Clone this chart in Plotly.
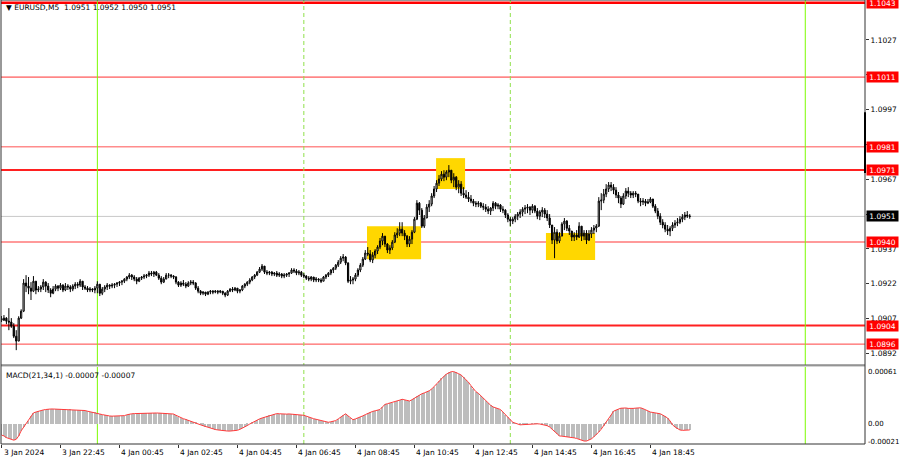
import plotly.graph_objects as go

# ---------------- data (EURUSD M5) ----------------
first_open = 1.09070

close = [
    1.09063, 1.09072, 1.09059, 1.09055, 1.09037, 1.08994, 1.08973, 1.09072, 1.09102, 1.09223,
    1.09210, 1.09201, 1.09188, 1.09231, 1.09193, 1.09197, 1.09206, 1.09227, 1.09210, 1.09193, 1.09179,
    1.09197, 1.09210, 1.09201, 1.09214, 1.09193, 1.09210, 1.09206, 1.09197, 1.09210, 1.09218,
    1.09214, 1.09231, 1.09206, 1.09201, 1.09193, 1.09197, 1.09193, 1.09201, 1.09218, 1.09179,
    1.09197, 1.09206, 1.09214, 1.09210, 1.09214, 1.09218, 1.09223, 1.09227,
    1.09231, 1.09240, 1.09249, 1.09257, 1.09249, 1.09240, 1.09231, 1.09244, 1.09249, 1.09253,
    1.09257, 1.09266, 1.09262, 1.09270, 1.09257, 1.09244, 1.09227, 1.09240, 1.09257, 1.09257,
    1.09253, 1.09249, 1.09227, 1.09214, 1.09223, 1.09218, 1.09210, 1.09223, 1.09227, 1.09223,
    1.09201, 1.09188, 1.09179, 1.09184, 1.09175, 1.09184, 1.09188, 1.09184, 1.09188, 1.09184,
    1.09188, 1.09179, 1.09171, 1.09188, 1.09197, 1.09193, 1.09201, 1.09188, 1.09193, 1.09210,
    1.09218, 1.09227,
    1.09236, 1.09249, 1.09257, 1.09270, 1.09283, 1.09296, 1.09270, 1.09266, 1.09270, 1.09262,
    1.09266, 1.09257, 1.09262, 1.09253, 1.09257, 1.09262, 1.09266, 1.09279, 1.09275, 1.09266,
    1.09270, 1.09257, 1.09253, 1.09244, 1.09240, 1.09249, 1.09236, 1.09240, 1.09236, 1.09231,
    1.09249, 1.09257, 1.09266, 1.09279, 1.09287, 1.09300, 1.09313, 1.09330, 1.09335, 1.09309,
    1.09231, 1.09236,
    1.09240, 1.09257, 1.09279, 1.09300, 1.09326, 1.09352, 1.09348, 1.09322, 1.09343, 1.09361,
    1.09378, 1.09404, 1.09425, 1.09391, 1.09365, 1.09374, 1.09399, 1.09430, 1.09438, 1.09455,
    1.09438, 1.09425, 1.09391, 1.09412, 1.09442, 1.09498, 1.09567, 1.09537, 1.09468, 1.09503,
    1.09550, 1.09563, 1.09598, 1.09628, 1.09653, 1.09671, 1.09692, 1.09679, 1.09701, 1.09709,
    1.09666, 1.09679, 1.09636, 1.09649, 1.09610, 1.09602, 1.09593, 1.09585,
    1.09576, 1.09567, 1.09563, 1.09567, 1.09554, 1.09550, 1.09541, 1.09533, 1.09546, 1.09567,
    1.09554, 1.09559, 1.09541, 1.09537, 1.09516, 1.09498, 1.09490, 1.09498, 1.09511, 1.09520,
    1.09529, 1.09541, 1.09546, 1.09550, 1.09537, 1.09554, 1.09533, 1.09511, 1.09529, 1.09537,
    1.09520, 1.09503, 1.09473, 1.09408, 1.09442, 1.09404, 1.09425, 1.09477, 1.09490, 1.09459,
    1.09447, 1.09421, 1.09430, 1.09421, 1.09468, 1.09425, 1.09438, 1.09408, 1.09434, 1.09451,
    1.09460, 1.09468, 1.09576, 1.09580,
    1.09606, 1.09628, 1.09645, 1.09636, 1.09623, 1.09602, 1.09589, 1.09563, 1.09598, 1.09619,
    1.09610, 1.09602, 1.09610, 1.09606, 1.09576, 1.09572, 1.09576, 1.09567, 1.09572, 1.09585,
    1.09554, 1.09533, 1.09511, 1.09485, 1.09473, 1.09455, 1.09447, 1.09459, 1.09473, 1.09481,
    1.09485, 1.09498, 1.09507, 1.09516, 1.09512, 1.09510,
]

high = [
    1.09081, 1.09085, 1.09076, 1.09115, 1.09072, 1.09050, 1.09020, 1.09080, 1.09110, 1.09240,
    1.09257, 1.09249, 1.09227, 1.09253, 1.09231, 1.09210, 1.09214, 1.09240, 1.09231, 1.09223, 1.09201,
    1.09210, 1.09218, 1.09214, 1.09223, 1.09218, 1.09223, 1.09218, 1.09214, 1.09218, 1.09227,
    1.09227, 1.09240, 1.09231, 1.09214, 1.09210, 1.09206, 1.09201, 1.09210, 1.09231, 1.09218,
    1.09206, 1.09214, 1.09223, 1.09218, 1.09223, 1.09223, 1.09227, 1.09231,
    1.09236, 1.09244, 1.09253, 1.09266, 1.09262, 1.09257, 1.09249, 1.09249, 1.09253, 1.09262,
    1.09262, 1.09275, 1.09275, 1.09275, 1.09275, 1.09266, 1.09253, 1.09249, 1.09266, 1.09266,
    1.09262, 1.09257, 1.09253, 1.09231, 1.09231, 1.09236, 1.09227, 1.09231, 1.09236, 1.09236,
    1.09227, 1.09210, 1.09193, 1.09188, 1.09184, 1.09188, 1.09193, 1.09193, 1.09193, 1.09193,
    1.09193, 1.09188, 1.09184, 1.09193, 1.09201, 1.09206, 1.09206, 1.09201, 1.09197, 1.09214,
    1.09223, 1.09231,
    1.09244, 1.09253, 1.09262, 1.09275, 1.09292, 1.09305, 1.09296, 1.09279, 1.09275, 1.09275,
    1.09270, 1.09275, 1.09270, 1.09266, 1.09266, 1.09266, 1.09270, 1.09287, 1.09287, 1.09283,
    1.09279, 1.09275, 1.09266, 1.09257, 1.09253, 1.09253, 1.09249, 1.09249, 1.09244, 1.09244,
    1.09253, 1.09262, 1.09270, 1.09283, 1.09292, 1.09305, 1.09322, 1.09339, 1.09348, 1.09339,
    1.09313, 1.09253,
    1.09249, 1.09266, 1.09287, 1.09309, 1.09335, 1.09365, 1.09378, 1.09365, 1.09356, 1.09369,
    1.09386, 1.09417, 1.09438, 1.09425, 1.09395, 1.09386, 1.09408, 1.09442, 1.09459, 1.09485,
    1.09485, 1.09451, 1.09430, 1.09425, 1.09451, 1.09507, 1.09580, 1.09572, 1.09546, 1.09516,
    1.09563, 1.09580, 1.09610, 1.09641, 1.09666, 1.09688, 1.09705, 1.09709, 1.09709, 1.09731,
    1.09709, 1.09696, 1.09684, 1.09666, 1.09662, 1.09636, 1.09623, 1.09615,
    1.09602, 1.09585, 1.09576, 1.09576, 1.09572, 1.09567, 1.09563, 1.09554, 1.09550, 1.09576,
    1.09572, 1.09567, 1.09563, 1.09554, 1.09541, 1.09524, 1.09507, 1.09507, 1.09520, 1.09529,
    1.09541, 1.09550, 1.09559, 1.09563, 1.09554, 1.09563, 1.09559, 1.09546, 1.09537, 1.09550,
    1.09546, 1.09537, 1.09520, 1.09473, 1.09464, 1.09455, 1.09442, 1.09485, 1.09503, 1.09494,
    1.09473, 1.09447, 1.09442, 1.09451, 1.09485, 1.09468, 1.09451, 1.09451, 1.09451, 1.09464,
    1.09473, 1.09477, 1.09593, 1.09610,
    1.09628, 1.09649, 1.09658, 1.09658, 1.09649, 1.09636, 1.09615, 1.09598, 1.09610, 1.09632,
    1.09636, 1.09619, 1.09619, 1.09619, 1.09606, 1.09589, 1.09589, 1.09585, 1.09585, 1.09593,
    1.09585, 1.09563, 1.09546, 1.09524, 1.09498, 1.09485, 1.09473, 1.09468, 1.09485, 1.09494,
    1.09503, 1.09511, 1.09520, 1.09529, 1.09533, 1.09520,
]

low = [
    1.09055, 1.09060, 1.09046, 1.09020, 1.09030, 1.08986, 1.08934, 1.08977, 1.09068, 1.09098,
    1.09184, 1.09175, 1.09150, 1.09184, 1.09175, 1.09184, 1.09184, 1.09193, 1.09184, 1.09180, 1.09162,
    1.09175, 1.09188, 1.09188, 1.09193, 1.09184, 1.09188, 1.09193, 1.09184, 1.09188, 1.09197,
    1.09201, 1.09206, 1.09193, 1.09193, 1.09184, 1.09184, 1.09184, 1.09179, 1.09179, 1.09167,
    1.09171, 1.09184, 1.09193, 1.09197, 1.09201, 1.09201, 1.09206, 1.09210,
    1.09214, 1.09223, 1.09231, 1.09240, 1.09236, 1.09231, 1.09218, 1.09227, 1.09236, 1.09240,
    1.09244, 1.09249, 1.09253, 1.09249, 1.09253, 1.09236, 1.09218, 1.09223, 1.09240, 1.09244,
    1.09244, 1.09240, 1.09218, 1.09206, 1.09206, 1.09210, 1.09201, 1.09206, 1.09214, 1.09214,
    1.09193, 1.09179, 1.09171, 1.09171, 1.09167, 1.09171, 1.09175, 1.09175, 1.09179, 1.09175,
    1.09179, 1.09171, 1.09162, 1.09167, 1.09184, 1.09184, 1.09188, 1.09179, 1.09179, 1.09188,
    1.09201, 1.09210,
    1.09218, 1.09231, 1.09240, 1.09253, 1.09266, 1.09275, 1.09262, 1.09257, 1.09257, 1.09253,
    1.09253, 1.09249, 1.09249, 1.09244, 1.09244, 1.09249, 1.09249, 1.09262, 1.09266, 1.09257,
    1.09257, 1.09249, 1.09244, 1.09236, 1.09231, 1.09231, 1.09227, 1.09227, 1.09227, 1.09223,
    1.09231, 1.09240, 1.09249, 1.09257, 1.09266, 1.09279, 1.09292, 1.09305, 1.09317, 1.09300,
    1.09223, 1.09218,
    1.09218, 1.09231, 1.09249, 1.09270, 1.09292, 1.09322, 1.09339, 1.09313, 1.09309, 1.09330,
    1.09348, 1.09369, 1.09386, 1.09378, 1.09352, 1.09348, 1.09365, 1.09395, 1.09417, 1.09425,
    1.09425, 1.09408, 1.09378, 1.09378, 1.09391, 1.09438, 1.09494, 1.09516, 1.09460, 1.09460,
    1.09503, 1.09529, 1.09554, 1.09589, 1.09615, 1.09641, 1.09662, 1.09662, 1.09666, 1.09679,
    1.09653, 1.09636, 1.09623, 1.09610, 1.09598, 1.09589, 1.09585, 1.09572,
    1.09567, 1.09554, 1.09550, 1.09550, 1.09546, 1.09537, 1.09529, 1.09520, 1.09516, 1.09533,
    1.09541, 1.09541, 1.09529, 1.09524, 1.09503, 1.09485, 1.09468, 1.09477, 1.09485, 1.09494,
    1.09503, 1.09511, 1.09520, 1.09524, 1.09516, 1.09524, 1.09524, 1.09498, 1.09494, 1.09507,
    1.09503, 1.09490, 1.09460, 1.09391, 1.09330, 1.09391, 1.09395, 1.09425, 1.09451, 1.09447,
    1.09430, 1.09404, 1.09404, 1.09408, 1.09417, 1.09404, 1.09408, 1.09391, 1.09404, 1.09417,
    1.09434, 1.09442, 1.09464, 1.09537,
    1.09567, 1.09593, 1.09615, 1.09619, 1.09606, 1.09589, 1.09567, 1.09546, 1.09559, 1.09585,
    1.09593, 1.09589, 1.09589, 1.09593, 1.09567, 1.09554, 1.09559, 1.09554, 1.09563, 1.09567,
    1.09546, 1.09524, 1.09498, 1.09473, 1.09459, 1.09442, 1.09430, 1.09425, 1.09447, 1.09460,
    1.09468, 1.09477, 1.09485, 1.09494, 1.09503, 1.09500,
]

macd = [
    -13e-5, -14e-5, -16e-5, -17e-5, -18e-5, -19e-5, -18e-5, -14e-5, -8e-5, -4e-5,
    0e-5, 4e-5, 9e-5, 13e-5, 14e-5, 15e-5, 15.5e-5, 16.5e-5, 17e-5, 17.5e-5,
    17.6e-5, 17.6e-5, 17.5e-5, 17.3e-5, 17.5e-5, 17.4e-5, 17.2e-5, 17e-5, 17.2e-5, 17e-5,
    16.8e-5, 16.8e-5, 16.6e-5, 16.4e-5, 15.8e-5, 15e-5, 14.5e-5, 14e-5, 13.5e-5, 13e-5,
    11.7e-5, 11e-5, 10.3e-5, 9.8e-5, 9.4e-5, 9.2e-5, 9.2e-5, 9.3e-5, 9.3e-5, 9.4e-5,
    9.8e-5, 10.8e-5, 11.7e-5, 12e-5, 12.2e-5, 12.3e-5, 12.6e-5, 12.9e-5, 13e-5, 13.2e-5,
    13.3e-5, 13.2e-5, 13.1e-5, 12.9e-5, 12.8e-5, 12.6e-5, 12.5e-5, 12.5e-5, 12.2e-5, 12e-5,
    11.7e-5, 10.2e-5, 8.6e-5, 7e-5, 6.2e-5, 5.3e-5, 4.4e-5, 3.5e-5, 2.4e-5, 1.2e-5,
    0e-5, -1e-5, -2e-5, -3e-5, -4e-5, -5e-5, -6e-5, -6.5e-5, -7e-5, -7.5e-5,
    -8e-5, -8.2e-5, -8.3e-5, -8.3e-5, -8.2e-5, -8e-5, -7.4e-5, -6.3e-5, -5e-5, -3.5e-5,
    -1.8e-5, 0e-5, 1.7e-5, 3.3e-5, 5e-5, 6e-5, 7e-5, 8e-5, 9e-5, 10e-5,
    11e-5, 12e-5, 12.2e-5, 12e-5, 11.6e-5, 11.4e-5, 11.6e-5, 11.8e-5, 11.6e-5, 11.3e-5,
    11.1e-5, 11e-5, 11e-5, 10.2e-5, 9.2e-5, 8e-5, 7e-5, 6.2e-5, 5.5e-5, 4.7e-5,
    4e-5, 3.3e-5, 2.6e-5, 2e-5, 2.6e-5, 3.3e-5, 4e-5, 6e-5, 8e-5, 10e-5,
    12e-5, 9.5e-5, 7e-5, 5e-5, 6e-5, 7e-5, 8e-5, 9.5e-5, 11e-5, 12.5e-5,
    14e-5, 14.8e-5, 15.5e-5, 16.2e-5, 17e-5, 20e-5, 23e-5, 23.8e-5, 24.5e-5, 25.2e-5,
    26e-5, 27e-5, 28e-5, 29e-5, 28.5e-5, 27.5e-5, 27e-5, 28.5e-5, 30.5e-5, 32.5e-5,
    34.5e-5, 35.5e-5, 36.5e-5, 37.5e-5, 39e-5, 41e-5, 44e-5, 47e-5, 51e-5, 53.5e-5,
    56e-5, 58.5e-5, 60.5e-5, 61.5e-5, 61.5e-5, 60.5e-5, 59e-5, 57.5e-5, 55e-5, 52e-5,
    49e-5, 45e-5, 41.5e-5, 38e-5, 36e-5, 33e-5, 30e-5, 27e-5, 25e-5, 22e-5,
    20e-5, 19e-5, 18e-5, 17e-5, 14e-5, 11e-5, 8e-5, 5.5e-5, 2e-5, 1e-5,
    0e-5, -1e-5, -0.8e-5, -0.5e-5, -0.2e-5, 0e-5, 0.2e-5, 0.3e-5, 0.2e-5, 0e-5,
    -0.5e-5, -1e-5, -2e-5, -3.5e-5, -6e-5, -9e-5, -12e-5, -14e-5, -14.3e-5, -14.6e-5,
    -14.8e-5, -15e-5, -15.5e-5, -16.3e-5, -17e-5, -18e-5, -19e-5, -20e-5, -20e-5, -19e-5,
    -17.5e-5, -15e-5, -12.5e-5, -9.5e-5, -6e-5, -2e-5, 1.5e-5, 6e-5, 10.5e-5, 15e-5,
    16.5e-5, 17.5e-5, 18.5e-5, 19e-5, 18.8e-5, 18.3e-5, 18e-5, 18.3e-5, 18.6e-5, 18.8e-5,
    19e-5, 18e-5, 16.5e-5, 15e-5, 14e-5, 13.5e-5, 13e-5, 12.5e-5, 12e-5, 10.5e-5,
    8.8e-5, 7e-5, 3.5e-5, -1e-5, -3.5e-5, -5.5e-5, -7e-5, -7.5e-5, -7.3e-5, -7e-5,
    -7e-5,
]

# horizontal levels (price, color, width)
level_prices = [1.1043, 1.1011, 1.0981, 1.0971, 1.0940, 1.0904, 1.0896]
level_colors = ["#ff0000", "#ff3030", "#ff8c8c", "#ff2020", "#ff9a9a", "#ff2020", "#ff4040"]
level_widths = [2.5, 1, 1.5, 2, 2, 2, 1]
current_price = 1.0951

price_ticks = [1.0892, 1.0907, 1.0922, 1.0937, 1.0952, 1.0967, 1.0982, 1.0997, 1.1012, 1.1027]
# labels hidden behind the level boxes in the reference are left blank
price_tick_text = ["1.0892", "1.0907", "1.0922", "1.0937", "", "1.0967", "", "1.0997", "", "1.1027"]
macd_ticks = [0.00061, 0.0, -0.00021]
macd_tick_text = ["0.00061", "0.00", "-0.00021"]

time_label_bars = [0, 24, 48, 72, 96, 120, 144, 168, 192, 216, 240, 264]
time_labels = ["3 Jan 2024", "3 Jan 22:45", "4 Jan 00:45", "4 Jan 02:45", "4 Jan 04:45",
               "4 Jan 06:45", "4 Jan 08:45", "4 Jan 10:45", "4 Jan 12:45", "4 Jan 14:45",
               "4 Jan 16:45", "4 Jan 18:45"]
day_separator_bars = [39, 327]
session_bars = [123, 207]

# highlighted zones: (bar from, bar to, price low, price high)
zones = [(148.7, 170.7, 1.09326, 1.09468),
         (176.8, 188.6, 1.09628, 1.09761),
         (221.5, 241.5, 1.09322, 1.09438)]

# ---------------- build figure ----------------
n = min(len(close), len(high), len(low), len(macd))
close = close[:n]
high = high[:n]
low = low[:n]
macd = macd[:n]
opens = [first_open] + close[:-1]
high = [max(h, o, c) for h, o, c in zip(high, opens, close)]
low = [min(l, o, c) for l, o, c in zip(low, opens, close)]
x = list(range(n))

FONT = "DejaVu Sans"
FS = 7.5

fig = go.Figure()
fig.add_trace(go.Candlestick(
    x=x, open=opens, high=high, low=low, close=close,
    increasing=dict(line=dict(color="black", width=1), fillcolor="white"),
    decreasing=dict(line=dict(color="black", width=1), fillcolor="black"),
    whiskerwidth=0, hoverinfo="skip", showlegend=False, xaxis="x", yaxis="y"))
fig.add_trace(go.Bar(
    x=x, y=macd, width=0.45, marker=dict(color="#bdbdbd", line=dict(width=0)),
    hoverinfo="skip", showlegend=False, xaxis="x2", yaxis="y2"))
fig.add_trace(go.Scatter(
    x=x, y=macd, mode="lines", line=dict(color="#ff3b3b", width=1),
    hoverinfo="skip", showlegend=False, xaxis="x2", yaxis="y2"))

shapes = []
for b0, b1, p0, p1 in zones:
    shapes.append(dict(type="rect", xref="x", yref="y", x0=b0, x1=b1, y0=p0, y1=p1,
                       fillcolor="#ffd700", line=dict(width=0), layer="below"))
shapes.append(dict(type="line", xref="paper", yref="y", x0=0, x1=1, y0=current_price,
                   y1=current_price, line=dict(color="#c8c8c8", width=1), layer="below"))
for p, col, w in zip(level_prices, level_colors, level_widths):
    shapes.append(dict(type="line", xref="paper", yref="y", x0=0, x1=1, y0=p, y1=p,
                       line=dict(color=col, width=w), layer="below"))
for b in day_separator_bars:
    shapes.append(dict(type="line", xref="x", yref="paper", x0=b, x1=b, y0=0, y1=1,
                       line=dict(color="#7CFC00", width=1), layer="below"))
for b in session_bars:
    shapes.append(dict(type="line", xref="x", yref="paper", x0=b, x1=b, y0=0, y1=1,
                       line=dict(color="#8fe04a", width=1, dash="4px,3px"), layer="below"))

main_bottom = 0.1779
macd_top = 0.1734
shapes.append(dict(type="rect", xref="paper", yref="paper", x0=0, x1=1, y0=macd_top,
                   y1=main_bottom, fillcolor="#d4d4d4", line=dict(width=0)))
shapes.append(dict(type="line", xref="paper", yref="paper", x0=0, x1=1, y0=main_bottom,
                   y1=main_bottom, line=dict(color="#555555", width=1.2)))
shapes.append(dict(type="rect", xref="paper", yref="paper", x0=0, x1=1, y0=0, y1=1,
                   line=dict(color="#333333", width=1)))
shapes.append(dict(type="line", xref="paper", yref="y", x0=1, x1=1, y0=1.09697, y1=1.09959,
                   line=dict(color="black", width=2)))

annotations = []
for p, col in zip(level_prices, level_colors):
    annotations.append(dict(xref="paper", yref="y", x=1, y=p, xanchor="left", yanchor="middle",
                            xshift=1, text=f"{p:.4f}", showarrow=False, bgcolor="#ff0000",
                            width=30, align="center", borderpad=0.5,
                            font=dict(family=FONT, size=FS, color="white")))
annotations.append(dict(xref="paper", yref="y", x=1, y=current_price, xanchor="left",
                        yanchor="middle", xshift=1, text=f"{current_price:.4f}", showarrow=False,
                        bgcolor="#000000", width=30, align="center", borderpad=0.5,
                        font=dict(family=FONT, size=FS, color="white")))
for v, t in zip(macd_ticks, macd_tick_text):
    annotations.append(dict(xref="paper", yref="y2", x=1, y=v, xanchor="left", yanchor="middle",
                            xshift=1, text=t, showarrow=False,
                            font=dict(family=FONT, size=7, color="black")))
for b, t in zip(time_label_bars, time_labels):
    annotations.append(dict(xref="x2", yref="paper", x=max(b, -0.2), y=0, xanchor="left",
                            yanchor="top", yshift=-2, xshift=0 if b else 1, text=t,
                            showarrow=False, font=dict(family=FONT, size=FS, color="black")))
annotations.append(dict(xref="paper", yref="paper", x=0, y=1, xanchor="left", yanchor="top",
                        xshift=3, yshift=-1, showarrow=False,
                        text="▼ EURUSD,M5  1.0951 1.0952 1.0950 1.0951",
                        font=dict(family=FONT, size=FS, color="black")))
annotations.append(dict(xref="paper", yref="paper", x=0, y=macd_top, xanchor="left",
                        yanchor="top", xshift=3, yshift=-2, showarrow=False,
                        text="MACD(21,34,1) -0.00007 -0.00007",
                        font=dict(family=FONT, size=FS, color="black")))

xrange = [-0.2, 351.3]
fig.update_layout(
    width=900, height=460,
    margin=dict(l=1, r=35, t=0, b=16, autoexpand=False),
    paper_bgcolor="white", plot_bgcolor="white",
    hovermode=False, showlegend=False, bargap=0,
    font=dict(family=FONT, size=FS, color="black"),
    xaxis=dict(domain=[0, 1], range=xrange, anchor="y", showticklabels=False,
               showgrid=False, zeroline=False, showline=False, ticks="",
               rangeslider=dict(visible=False), fixedrange=True, automargin=False),
    xaxis2=dict(domain=[0, 1], range=xrange, anchor="y2", matches="x", showticklabels=False,
                showgrid=False, zeroline=False, showline=False, ticks="outside",
                tickvals=time_label_bars, ticklen=3, tickcolor="#333333", fixedrange=True,
                automargin=False),
    yaxis=dict(domain=[main_bottom, 1], range=[1.08870, 1.10442], side="right", anchor="x",
               tickvals=price_ticks, ticktext=price_tick_text, ticks="outside", ticklen=3,
               tickcolor="#333333", showgrid=False, zeroline=False, showline=False,
               tickfont=dict(family=FONT, size=FS, color="black"), fixedrange=True,
               automargin=False),
    yaxis2=dict(domain=[0, macd_top], range=[-0.000235, 0.000669], side="right", anchor="x2",
                tickvals=macd_ticks, ticks="", showticklabels=False,
                showgrid=False, zeroline=False, showline=False, fixedrange=True,
                automargin=False),
    shapes=shapes, annotations=annotations,
)

fig.write_html("out.html", config={"displayModeBar": False},
               post_script="document.body.style.margin='0px';document.body.style.padding='0px';")
